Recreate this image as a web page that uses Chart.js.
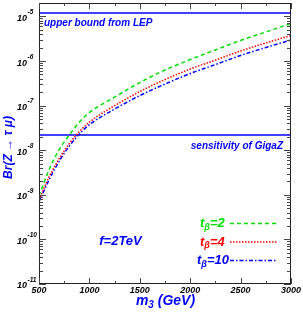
<!DOCTYPE html>
<html>
<head>
<meta charset="utf-8">
<script src="https://cdn.jsdelivr.net/npm/chart.js"></script>
<style>
html, body { margin: 0; padding: 0; background: #fff; }
canvas { display: block; }
</style>
</head>
<body>
<canvas id="myChart" width="303" height="313"></canvas>
<script>
// m3 in GeV
var masses = [500, 600, 700, 800, 900, 1000, 1250, 1500, 1750, 2000, 2250, 2500, 2750, 3000]
// Br(Z -> tau mu)
var brTb2 = [9.5e-10, 3.65e-9, 1.03e-8, 2.17e-8, 4.26e-8, 6.97e-8, 1.55e-7, 3.29e-7, 6.28e-7, 1.08e-6, 1.77e-6, 2.89e-6, 4.49e-6, 6.97e-6]
var brTb4 = [7.73e-10, 2.53e-9, 6.44e-9, 1.40e-8, 2.61e-8, 4.26e-8, 1.0e-7, 2.07e-7, 3.84e-7, 6.61e-7, 1.05e-6, 1.68e-6, 2.54e-6, 3.74e-6]
var brTb10 = [6.97e-10, 2.17e-9, 5.66e-9, 1.23e-8, 2.29e-8, 3.74e-8, 8.34e-8, 1.68e-7, 3.04e-7, 5.24e-7, 8.34e-7, 1.33e-6, 2.01e-6, 2.96e-6]
var lepBound = 1.2e-5
var gigaZ = 2.2e-8
var xTicks = [500, 1000, 1500, 2000, 2500, 3000]
var yDecades = [-11, -10, -9, -8, -7, -6, -5]

var FONT = '"Liberation Sans", Arial, sans-serif'
var blue = '#0000ff'

function pts(ys) {
	return masses.map(function (m, i) { return { x: m, y: ys[i] } })
}
function flat(v) {
	return [{ x: masses[0], y: v }, { x: masses[masses.length - 1], y: v }]
}

var rootFrame = {
	id: 'rootFrame',
	afterDraw: function (chart) {
		var c = chart.ctx
		var a = chart.chartArea
		var xs = chart.scales.x
		var ys = chart.scales.y
		c.save()
		c.strokeStyle = '#222'
		c.lineWidth = 1
		c.strokeRect(Math.round(a.left) + 0.5, Math.round(a.top) + 0.5, Math.round(a.right - a.left) - 1, Math.round(a.bottom - a.top) - 1)

		function seg(x1, y1, x2, y2) {
			c.beginPath(); c.moveTo(x1, y1); c.lineTo(x2, y2); c.stroke()
		}
		// log y ticks, inside on both sides
		c.strokeStyle = '#444'
		yDecades.forEach(function (d) {
			for (var k = 1; k < 10; k++) {
				var v = k * Math.pow(10, d)
				if (v < ys.min * 0.999 || v > ys.max * 0.999) continue
				var py = Math.round(ys.getPixelForValue(v)) + 0.5
				var len = k === 1 ? 7 : 4
				seg(a.left, py, a.left + len, py)
				seg(a.right, py, a.right - len, py)
			}
		})
		// x ticks every 250
		for (var m = 500; m <= 3000; m += 250) {
			var px = Math.round(xs.getPixelForValue(m)) + 0.5
			var l = m % 500 === 0 ? 6 : 3
			seg(px, a.bottom, px, a.bottom - l)
			seg(px, a.top, px, a.top + l)
		}

		// tick labels
		c.fillStyle = '#000'
		c.textBaseline = 'middle'
		c.textAlign = 'center'
		c.font = 'italic bold 9px ' + FONT
		xTicks.forEach(function (t) {
			c.fillText(String(t), xs.getPixelForValue(t), a.bottom + 7)
		})
		yDecades.forEach(function (d) {
			var py = ys.getPixelForValue(Math.pow(10, d))
			c.textAlign = 'left'
			c.font = 'italic bold 9px ' + FONT
			c.fillText('10', 17, py + 2)
			c.font = 'italic bold 6.5px ' + FONT
			c.fillText(String(d), 27.5, py - 4)
		})

		// annotations
		c.fillStyle = blue
		c.font = 'italic bold 10px ' + FONT
		c.textAlign = 'left'
		c.fillText('upper bound from LEP', 44, 23)
		c.textAlign = 'right'
		c.fillText('sensitivity of GigaZ', 283, 146)
		c.textAlign = 'center'
		c.font = 'italic bold 13px ' + FONT
		c.fillText('f=2TeV', 120.5, 241)

		// legend
		var legend = [
			{ n: '2', col: '#00e000', dash: [4, 3], y: 223.5 },
			{ n: '4', col: '#ff0000', dash: [1.5, 1.5], y: 242 },
			{ n: '10', col: blue, dash: [4, 2, 1.5, 2], y: 260.5 }
		]
		legend.forEach(function (e) {
			c.fillStyle = e.col
			c.textAlign = 'left'
			var x0 = e.n === '10' ? 197 : 200
			c.font = 'italic bold 13px ' + FONT
			c.fillText('t', x0, e.y)
			var w = c.measureText('t').width
			c.font = 'italic bold 9px ' + FONT
			c.fillText('\u03b2', x0 + w, e.y + 4)
			var w2 = c.measureText('\u03b2').width
			c.font = 'italic bold 13px ' + FONT
			c.fillText('=' + e.n, x0 + w + w2, e.y)
			c.strokeStyle = e.col
			c.lineWidth = 1.5
			c.setLineDash(e.dash)
			seg(230, e.y, 277, e.y)
			c.setLineDash([])
		})

		// axis titles
		c.fillStyle = blue
		c.textAlign = 'left'
		c.font = 'italic bold 14px ' + FONT
		var title = 'm'
		var tw = c.measureText('m').width
		c.font = 'italic bold 10px ' + FONT
		var sw = c.measureText('3').width
		c.font = 'italic bold 14px ' + FONT
		var rest = ' (GeV)'
		var rw = c.measureText(rest).width
		var x0 = 165.5 - (tw + sw + rw) / 2
		c.fillText(title, x0, 301)
		c.font = 'italic bold 10px ' + FONT
		c.fillText('3', x0 + tw, 305)
		c.font = 'italic bold 14px ' + FONT
		c.fillText(rest, x0 + tw + sw, 301)

		c.translate(9, 147.5)
		c.rotate(-Math.PI / 2)
		c.textAlign = 'center'
		c.font = 'italic bold 12px ' + FONT
		c.fillText('Br(Z \u2192 \u03c4 \u03bc)', 0, 0)
		c.restore()
	}
}

var ctx = document.getElementById('myChart')
var chart = new Chart(ctx, {
	type: 'line',
	data: {
		datasets: [{
			label: 'tb=2',
			data: pts(brTb2),
			borderColor: '#00e000',
			borderDash: [4, 3],
			borderWidth: 1.5,
			cubicInterpolationMode: 'monotone'
		}, {
			label: 'tb=4',
			data: pts(brTb4),
			borderColor: '#ff0000',
			borderDash: [1.5, 1.5],
			borderWidth: 1.5,
			cubicInterpolationMode: 'monotone'
		}, {
			label: 'tb=10',
			data: pts(brTb10),
			borderColor: blue,
			borderDash: [4, 2, 1.5, 2],
			borderWidth: 1.5,
			cubicInterpolationMode: 'monotone'
		}, {
			label: 'LEP',
			data: flat(lepBound),
			borderColor: blue,
			borderWidth: 1.5
		}, {
			label: 'GigaZ',
			data: flat(gigaZ),
			borderColor: blue,
			borderWidth: 1.5
		}]
	},
	options: {
		responsive: false,
		animation: false,
		devicePixelRatio: 1,
		layout: { padding: { left: 39, right: 12, top: 3, bottom: 29 } },
		elements: { point: { radius: 0 } },
		plugins: { legend: { display: false }, tooltip: { enabled: false } },
		scales: {
			x: { type: 'linear', min: 500, max: 3000, display: false },
			y: { type: 'logarithmic', min: 1e-11, max: 2e-5, display: false }
		}
	},
	plugins: [rootFrame]
})
</script>
</body>
</html>
